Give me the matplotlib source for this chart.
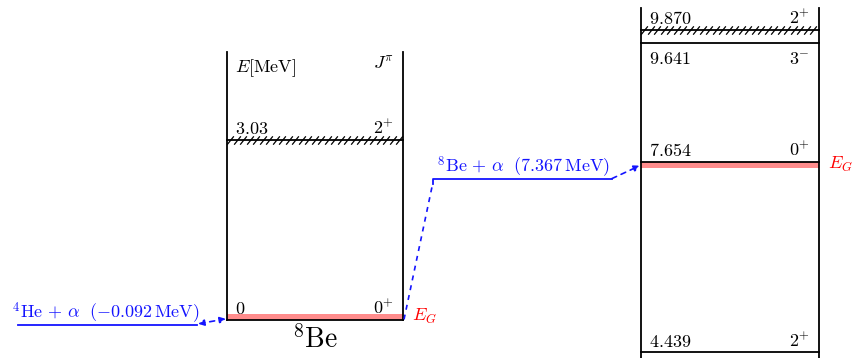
import numpy as np
import matplotlib.pyplot as plt
from matplotlib.path import Path

plt.rcParams['mathtext.fontset'] = 'cm'
plt.rcParams['font.family'] = ['DejaVu Serif']

# 8Be levels (MeV, relative to 8Be ground state)
be8_energy = [0.0, 3.03]
be8_label = ['0', '3.03']
be8_spin = ['0^{+}', '2^{+}']
be8_broad = [False, True]

# 12C levels (MeV, relative to 12C ground state)
c12_energy = [4.439, 7.654, 9.641, 9.870]
c12_label = ['4.439', '7.654', '9.641', '9.870']
c12_spin = ['2^{+}', '0^{+}', '3^{-}', '2^{+}']
c12_broad = [False, False, False, True]
c12_label_below = [False, False, True, False]

# particle thresholds
he_alpha = -0.092    # 4He + alpha, 8Be frame
be_alpha = 7.367     # 8Be + alpha, 12C frame

# Gamow windows
be8_gamow = [0.0, 0.09]
c12_gamow = [7.545, 7.654]

# layout
W, H = 865, 358
px_per_mev = 59.4
be8_shift = 4.994            # draws 8Be scheme lower on the same energy scale
be8_x = (227, 403)
c12_x = (641, 819)
be8_top = 4.51
c12_top = 10.24
y_top = 7.654 + 161.5 / px_per_mev
y_bot = 7.654 - (H - 161.5) / px_per_mev

FS = 13
blue = '#1414ff'

fig = plt.figure(figsize=(W / 100, H / 100), dpi=100)
ax = fig.add_axes([0, 0, 1, 1])
ax.set_xlim(0, W)
ax.set_ylim(y_bot, y_top)
ax.axis('off')

tick = Path([(-0.4, -0.5), (0.4, 0.5)], [Path.MOVETO, Path.LINETO])


def draw_scheme(x, top, bottom, shift, energy, label, spin, broad, below, gamow):
    x0, x1 = x
    ax.plot([x0, x0], [bottom, top + shift], color='black', lw=1.3)
    ax.plot([x1, x1], [bottom, top + shift], color='black', lw=1.3)
    ax.fill_between([x0, x1], gamow[0] + shift, gamow[1] + shift,
                    color='#ff8c8c', lw=0, zorder=1)
    for e, lab, sp, br, bl in zip(energy, label, spin, broad, below):
        y = e + shift
        ax.plot([x0, x1], [y, y], color='black', lw=1.3, zorder=3)
        if br:
            xs = np.arange(x0 + 3, x1, 6.5)
            ax.plot(xs, np.full_like(xs, y), ls='none', marker=tick, ms=6,
                    mew=0.9, mec='black', zorder=3)
        dy = -15 if bl else 4
        ax.annotate(r'$\mathrm{%s}$' % lab, (x0 + 8, y), xytext=(0, dy),
                    textcoords='offset points', va='baseline', ha='left',
                    fontsize=FS)
        ax.annotate(r'$%s$' % sp, (x1 - 9, y), xytext=(0, dy),
                    textcoords='offset points', va='baseline', ha='right',
                    fontsize=FS)
    ax.text(x1 + 9, (gamow[0] + gamow[1]) / 2 + shift, r'$E_G$',
            color='red', fontsize=FS, va='center', ha='left')


draw_scheme(be8_x, be8_top, be8_shift, be8_shift, be8_energy, be8_label,
            be8_spin, be8_broad, [False] * len(be8_energy), be8_gamow)
draw_scheme(c12_x, c12_top, y_bot, 0.0, c12_energy, c12_label,
            c12_spin, c12_broad, c12_label_below, c12_gamow)

# column headers in the 8Be box
ax.text(be8_x[0] + 8, 4.17 + be8_shift, r'$E[\mathrm{MeV}]$', fontsize=FS,
        va='baseline', ha='left')
ax.text(be8_x[1] - 9, 4.20 + be8_shift, r'$J^{\pi}$', fontsize=FS,
        va='baseline', ha='right')

# nucleus name
ax.annotate(r'$^{8}\mathrm{Be}$', ((be8_x[0] + be8_x[1]) / 2, be8_shift),
            xytext=(0, -20.5), textcoords='offset points', ha='center',
            va='baseline', fontsize=20)

# 4He + alpha threshold
y_he = he_alpha + be8_shift
ax.plot([18, 197], [y_he, y_he], color=blue, lw=1.3)
ax.annotate(r'$^{4}\mathrm{He}\,+\,\alpha\ \ (-0.092\,\mathrm{MeV})$',
            (106, y_he), xytext=(0, 4.5), textcoords='offset points',
            ha='center', va='baseline', color=blue, fontsize=13)
ax.annotate('', xy=(be8_x[0] - 1, be8_shift + 0.01), xytext=(198, y_he + 0.02),
            arrowprops=dict(arrowstyle='<|-|>', color=blue, lw=1.2,
                            ls=(0, (3, 3)), mutation_scale=9,
                            shrinkA=0, shrinkB=0))

# 8Be + alpha threshold
y_be = be_alpha
ax.plot([433, 433, 612], [y_be - 0.1, y_be, y_be], color=blue, lw=1.3)
ax.plot([be8_x[1] + 1, 432], [be8_shift, y_be - 0.14], color=blue, lw=1.2,
        ls=(0, (3, 3)))
ax.annotate(r'$^{8}\mathrm{Be}\,+\,\alpha\ \ (7.367\,\mathrm{MeV})$',
            (523, y_be), xytext=(0, 4.5), textcoords='offset points',
            ha='center', va='baseline', color=blue, fontsize=13)
ax.annotate('', xy=(c12_x[0] - 1, 7.585), xytext=(612, y_be),
            arrowprops=dict(arrowstyle='-|>', color=blue, lw=1.2,
                            ls=(0, (3, 3)), mutation_scale=9,
                            shrinkA=0, shrinkB=0))

fig.savefig('out.png', dpi=100)
